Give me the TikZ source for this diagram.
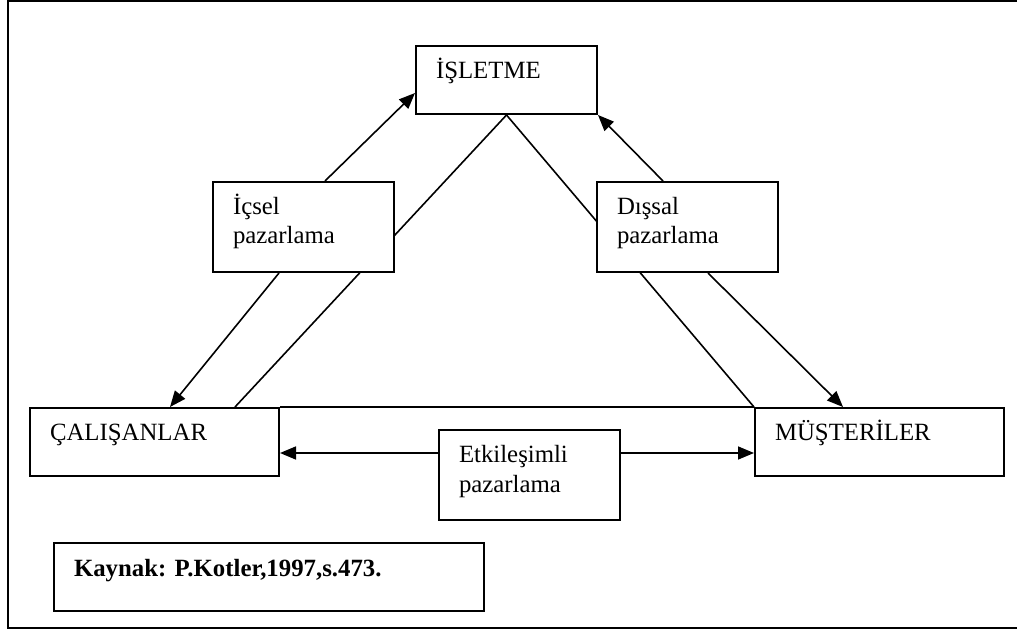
\documentclass[tikz,border=0pt]{standalone}
\usepackage{fontspec}
\setmainfont{Liberation Serif}
\usetikzlibrary{arrows.meta,backgrounds}

\begin{document}
\begin{tikzpicture}[x=0.5pt,y=-0.5pt,
    box/.style 2 args={draw,fill=white,line width=1pt,anchor=north west,
      align=left,font=\fontsize{12.4}{14.5}\selectfont,
      inner xsep=10pt,inner ysep=0pt,text height=16.5pt,
      text width=#1,text depth=#2},
    arr/.style={-{Triangle[length=8pt,width=6.5pt]},line width=0.8pt}]

        \useasboundingbox (0,0) rectangle (1017,630);
        \draw[line width=1pt] (1017,1) -- (8,1) -- (8,628) -- (1017,628);

        \node[box={70.5pt}{17.5pt}]  (isletme)    at (415,45)  {İŞLETME};
        \node[box={70.5pt}{28.5pt}]  (icsel)      at (212,181) {İçsel\\pazarlama};
        \node[box={70.5pt}{28.5pt}]  (dissal)     at (596,181) {Dışsal\\pazarlama};
        \node[box={104.5pt}{17.5pt}] (calisanlar) at (29,407)  {ÇALIŞANLAR};
        \node[box={104.5pt}{17.5pt}] (musteriler) at (754,407) {MÜŞTERİLER};
        \node[box={70.5pt}{28.5pt}]  (etkilesim)  at (438,429) {Etkileşimli\\pazarlama};
        \node[box={195pt}{17.5pt}]   (kaynak)     at (53,542)  {\textbf{Kaynak:\ P.Kotler,1997,s.473.}};

        \begin{pgfonlayer}{background}
          \begin{scope}[line width=0.8pt]
            \draw (isletme.south) -- ([xshift=103pt]calisanlar.north west);
            \draw (isletme.south) -- (musteriler.north west);
            \draw (calisanlar.north east) -- (musteriler.north west);
          \end{scope}

          \draw[arr] ([xshift=56.5pt]icsel.north west) -- ([yshift=-6.5pt]isletme.west);
          \draw[arr] ([xshift=33.5pt]icsel.south west) -- ([xshift=70.5pt]calisanlar.north west);
          \draw[arr] ([xshift=33.5pt]dissal.north west) -- (isletme.south east);
          \draw[arr] ([xshift=56pt]dissal.south west) -- ([xshift=44.5pt]musteriler.north west);
          \draw[arr] ([yshift=11pt]etkilesim.west) coordinate (etkL) -- (etkL -| calisanlar.east);
          \draw[arr] ([yshift=11pt]etkilesim.east) coordinate (etkR) -- (etkR -| musteriler.west);
        \end{pgfonlayer}

      \end{tikzpicture}
\end{document}
